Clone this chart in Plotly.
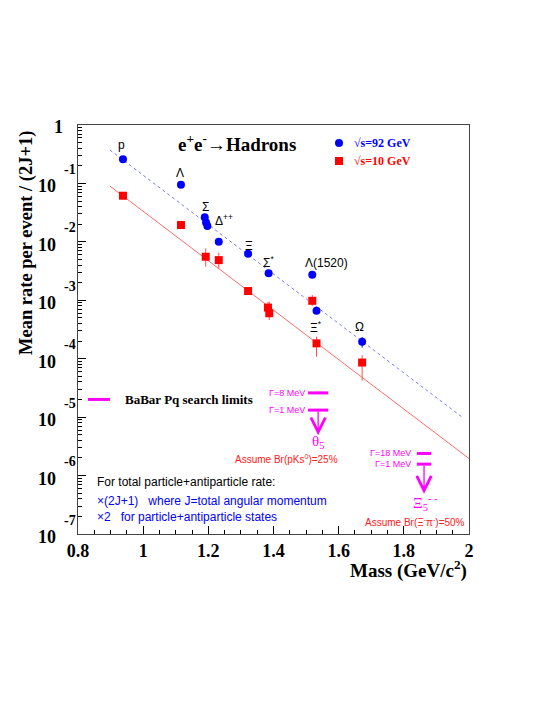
import math
import plotly.graph_objects as go

# particle masses (GeV) and rates per event / (2J+1)
mass_92 = [0.938, 1.116, 1.189, 1.193, 1.197, 1.232, 1.322, 1.385, 1.519, 1.532, 1.672]
rate_92 = [0.259, 0.095, 0.0263, 0.0214, 0.0187, 0.0100, 0.00626, 0.00289, 0.00273, 6.6e-4, 1.95e-4]
err_92 = [0, 0, 0, 0, 0, 0, 0, 0, 0, 0, 4.0e-5]

mass_10 = [0.938, 1.116, 1.192, 1.232, 1.322, 1.383, 1.387, 1.519, 1.532, 1.672]
rate_10 = [0.0616, 0.0194, 0.00556, 0.00487, 0.00144, 7.5e-4, 6.0e-4, 9.8e-4, 1.83e-4, 8.6e-5]
err_10_up = [0, 0, 0.00218, 0.00167, 0, 1.9e-4, 3.5e-4, 2.5e-4, 5.5e-5, 2.9e-5]
err_10_dn = [0, 0, 0.00181, 0.00136, 0, 2.3e-4, 1.4e-4, 1.8e-4, 7.5e-5, 4.4e-5]

# exponential fits drawn through the points
fit_92_x = [0.898, 1.978]
fit_92_y = [0.373, 1.01e-5]
fit_10_x = [0.898, 2.0]
fit_10_y = [0.0902, 1.96e-6]

# pentaquark upper limits (BaBar)
theta_mass, theta_halfw = 1.537, 0.031
theta_limits = [2.6e-5, 1.32e-5]
theta_arrow_end = 4.9e-6
xi_mass, xi_halfw = 1.862, 0.022
xi_limits = [2.39e-6, 1.57e-6]
xi_arrow_end = 4.9e-7

labels = ["p", "Λ", "Σ", "Δ<sup>++</sup>", "Ξ", "Σ<sup>*</sup>", "Λ(1520)", "Ξ<sup>*</sup>", "Ω"]
label_x = [0.935, 1.113, 1.190, 1.248, 1.325, 1.386, 1.564, 1.529, 1.665]
label_logy = [-0.34, -0.82, -1.40, -1.63, -2.07, -2.35, -2.36, -3.45, -3.46]

SERIF = "Liberation Serif"
SANS = "Liberation Sans"
MAG = "#ff00ff"

fig = go.Figure()

fig.add_trace(go.Scatter(x=fit_92_x, y=fit_92_y, mode="lines",
                         line=dict(color="#7878ff", width=1, dash="3px,3px"), hoverinfo="skip"))
fig.add_trace(go.Scatter(x=fit_10_x, y=fit_10_y, mode="lines",
                         line=dict(color="#ff6a6a", width=1), hoverinfo="skip"))

fig.add_trace(go.Scatter(x=mass_92, y=rate_92, mode="markers",
                         marker=dict(color="#0000ff", size=8, symbol="circle"),
                         error_y=dict(type="data", array=err_92, color="#0000ff", width=0, thickness=1)))
fig.add_trace(go.Scatter(x=mass_10, y=rate_10, mode="markers",
                         marker=dict(color="#ff0000", size=8, symbol="square"),
                         error_y=dict(type="data", array=err_10_up, arrayminus=err_10_dn,
                                      color="#ff5050", width=0, thickness=1)))

# limit bars
for m, hw, lims in [(theta_mass, theta_halfw, theta_limits), (xi_mass, xi_halfw, xi_limits)]:
    for v in lims:
        fig.add_trace(go.Scatter(x=[m - hw, m + hw], y=[v, v], mode="lines",
                                 line=dict(color=MAG, width=3), hoverinfo="skip"))

ann = []
for m, lims, end in [(theta_mass, theta_limits, theta_arrow_end), (xi_mass, xi_limits, xi_arrow_end)]:
    ann.append(dict(x=m, y=math.log10(end), ax=m, ay=math.log10(lims[-1]), xref="x", yref="y",
                    axref="x", ayref="y", text="", showarrow=True, arrowhead=5, arrowsize=2.2,
                    arrowwidth=1.3, arrowcolor=MAG))

def txt(x, y, s, size, color="black", family=SANS, bold=False, xanchor="center", xref="x", yref="y", **kw):
    ann.append(dict(x=x, y=y, text=s, xref=xref, yref=yref, showarrow=False, xanchor=xanchor,
                    yanchor="middle", font=dict(family=family, size=size, color=color,
                                                weight="bold" if bold else "normal"), **kw))

for s, x, y in zip(labels, label_x, label_logy):
    txt(x, y, s, 12)

txt(1.503, math.log10(theta_limits[0]), "Γ=8 MeV", 9, MAG, xanchor="right")
txt(1.503, math.log10(theta_limits[1]), "Γ=1 MeV", 9, MAG, xanchor="right")
txt(1.828, math.log10(xi_limits[0]), "Γ=18 MeV", 9, MAG, xanchor="right")
txt(1.828, math.log10(xi_limits[1]), "Γ=1 MeV", 9, MAG, xanchor="right")
txt(theta_mass, -5.43, "θ<sub>5</sub>", 15, MAG, family=SERIF)
txt(1.441, -5.72, "Assume Br(pKs<sup>0</sup>)=25%", 10, "#ff2020")
txt(xi_mass + 0.005, -6.47, "Ξ<sub>5</sub><sup>- -</sup>", 15, MAG, family=SERIF)
txt(1.834, -6.80, "Assume Br(Ξ<sup>-</sup>π<sup>-</sup>)=50%", 10, "#ff2020")

# title and legends
txt(0.251, 0.956, "e<sup>+</sup>e<sup>-</sup>→Hadrons", 19, bold=True, family=SERIF,
    xanchor="left", xref="paper", yref="paper")
txt(0.7008, 0.956, "√s=92 GeV", 12, "#0000ff", family=SERIF, bold=True, xanchor="left",
    xref="paper", yref="paper")
txt(0.7008, 0.912, "√s=10 GeV", 12, "#ff0000", family=SERIF, bold=True, xanchor="left",
    xref="paper", yref="paper")
txt(0.1151, 0.329, "BaBar Pq search limits", 13, family=SERIF, bold=True, xanchor="left",
    xref="paper", yref="paper")
txt(0.043, 0.128, "For total particle+antiparticle rate:", 12, xanchor="left", xref="paper", yref="paper")
txt(0.043, 0.081, "×(2J+1)   where J=total angular momentum", 12, "#0000ff", xanchor="left",
    xref="paper", yref="paper")
txt(0.043, 0.042, "×2   for particle+antiparticle states", 12, "#0000ff", xanchor="left",
    xref="paper", yref="paper")

# y tick labels ROOT style
txt(-0.051, 0, "1", 18, family=SERIF, bold=True, xref="paper", yshift=-2)
for k in range(1, 8):
    txt(-0.0793, -k, "10", 18, family=SERIF, bold=True, xref="paper", yshift=-3)
    txt(-0.0205, -k, "-%d" % k, 14, family=SERIF, bold=True, xref="paper", yshift=14)

# axis titles
txt(-0.130, 0.712, "Mean rate per event / (2J+1)", 18.5, family=SERIF, bold=True,
    xref="paper", yref="paper", textangle=-90)
txt(1.0, -0.086, "Mass (GeV/c<sup>2</sup>)", 19, family=SERIF, bold=True, xanchor="right",
    xref="paper", yref="paper")

shapes = [
    dict(type="line", xref="paper", yref="paper", x0=0.0256, x1=0.0818, y0=0.329, y1=0.329,
         line=dict(color=MAG, width=3)),
    dict(type="circle", xref="paper", yref="paper", xsizemode="pixel", ysizemode="pixel",
         xanchor=0.6675, yanchor=0.956, x0=-4, x1=4, y0=-4, y1=4,
         fillcolor="#0000ff", line=dict(width=0)),
    dict(type="rect", xref="paper", yref="paper", xsizemode="pixel", ysizemode="pixel",
         xanchor=0.6675, yanchor=0.912, x0=-4, x1=4, y0=-4, y1=4,
         fillcolor="#ff0000", line=dict(width=0)),
]

fig.update_layout(
    width=537, height=697,
    margin=dict(l=70, r=76, t=117, b=171),
    paper_bgcolor="white", plot_bgcolor="white",
    showlegend=False,
    annotations=ann, shapes=shapes,
    xaxis=dict(range=[0.8, 2.0], dtick=0.2, tick0=0.8, ticks="inside", ticklen=8,
               tickcolor="black", showgrid=False, zeroline=False, showline=True,
               linecolor="#444", mirror=True,
               minor=dict(dtick=0.05, ticks="inside", ticklen=4, tickcolor="black"),
               tickfont=dict(family=SERIF, size=18, color="black", weight="bold")),
    yaxis=dict(type="log", range=[-7, 0], dtick=1, ticks="inside", ticklen=8,
               tickcolor="black", showgrid=False, zeroline=False, showline=True,
               linecolor="#444", mirror=True, showticklabels=False,
               minor=dict(ticks="inside", ticklen=4, tickcolor="black", dtick="D1")),
)

fig.write_html("out.html")
